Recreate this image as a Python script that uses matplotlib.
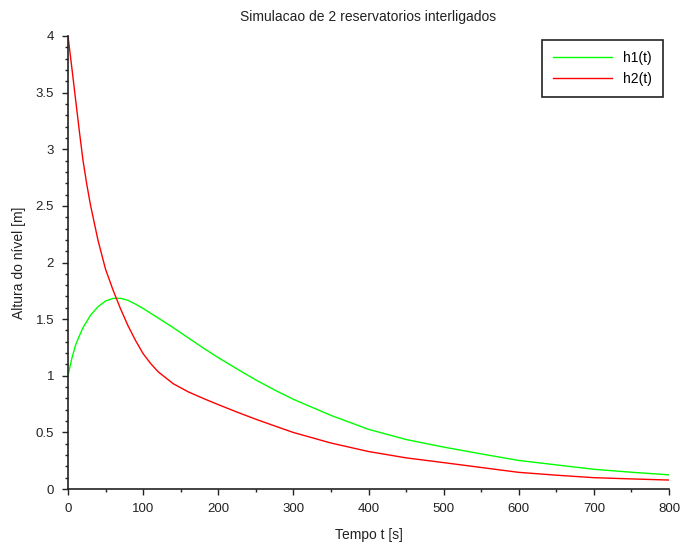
import matplotlib.pyplot as plt
from matplotlib.ticker import MultipleLocator

plt.rcParams['font.family'] = ['Liberation Sans', 'DejaVu Sans']

# time samples [s]
t = [0, 5, 10, 15, 20, 25, 30, 40, 50, 60, 70, 80, 90, 100, 110, 120, 140, 160, 180, 200,
     225, 250, 275, 300, 350, 400, 450, 500, 550, 600, 650, 700, 750, 800]

# level in reservoir 1 [m]
h1 = [1.0, 1.15, 1.27, 1.35, 1.425, 1.48, 1.535, 1.61, 1.66, 1.683, 1.684, 1.665, 1.632,
      1.594, 1.552, 1.51, 1.425, 1.335, 1.245, 1.16, 1.06, 0.963, 0.874, 0.792, 0.65, 0.527,
      0.437, 0.37, 0.31, 0.252, 0.213, 0.174, 0.148, 0.125]

# level in reservoir 2 [m]
h2 = [4.0, 3.725, 3.445, 3.165, 2.90, 2.69, 2.505, 2.194, 1.94, 1.756, 1.59, 1.44,
      1.31, 1.195, 1.108, 1.035, 0.93, 0.858, 0.800, 0.745, 0.679, 0.616, 0.557, 0.499,
      0.406, 0.331, 0.275, 0.233, 0.19, 0.147, 0.122, 0.10, 0.089, 0.079]

fig = plt.figure(figsize=(6.81, 5.44), dpi=100)
ax = fig.add_axes([68 / 681, 55 / 544, 601 / 681, 453 / 544])

ax.plot(t, h1, color='#00ff00', lw=1.0, label='h1(t)')
ax.plot(t, h2, color='#ff0000', lw=1.0, label='h2(t)')

ax.set_xlim(0, 800)
ax.set_ylim(0, 4)
ax.xaxis.set_major_locator(MultipleLocator(100))
ax.xaxis.set_minor_locator(MultipleLocator(50))
ax.yaxis.set_major_locator(MultipleLocator(0.5))
ax.yaxis.set_minor_locator(MultipleLocator(0.1))
ax.yaxis.set_major_formatter(plt.FuncFormatter(lambda v, p: f'{v:g}'))

for s in ['top', 'right']:
    ax.spines[s].set_visible(False)
for s in ['left', 'bottom']:
    ax.spines[s].set_color('#222222')
    ax.spines[s].set_linewidth(1.2)

ax.tick_params(which='major', length=4, width=1, color='#222222', labelsize=9.5, pad=6,
               labelcolor='#222222')
ax.tick_params(which='minor', length=2.5, width=1, color='#222222')

ax.set_title('Simulacao de 2 reservatorios interligados', fontsize=10, pad=10.5,
             color='#222222')
ax.set_xlabel('Tempo t [s]', fontsize=10, labelpad=9.5, color='#222222')
ax.set_ylabel('Altura do nível [m]', fontsize=10, labelpad=7, color='#222222')

leg = ax.legend(loc='upper right', fontsize=10, fancybox=False, framealpha=1,
                edgecolor='#222222', handlelength=4.25, handletextpad=0.8,
                borderpad=0.8, labelspacing=0.5, borderaxespad=0,
                bbox_to_anchor=(1 - 6 / 601, 1 - 4 / 453))
leg.get_frame().set_linewidth(1.2)

fig.savefig('out.png', dpi=100)
